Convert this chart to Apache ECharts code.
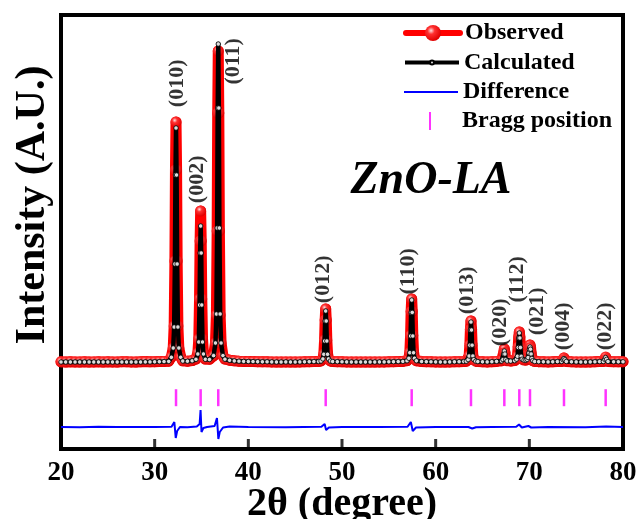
<!DOCTYPE html>
<html><head><meta charset="utf-8">
<script src="https://cdn.jsdelivr.net/npm/echarts@6/dist/echarts.min.js"></script>
<style>html,body{margin:0;padding:0;background:#fff}#c{width:638px;height:519px}</style>
</head><body><div id="c"></div>
<script>
// ---- data ----
const twoTheta = [
  20,20.5,21,21.5,22,22.5,23,23.5,24,24.5,25,25.5,26,26.5,27,27.5,28,28.5,29,29.5,30,30.5,31,31.5,
  31.78,31.98,32.08,32.16,32.22,32.28,32.34,32.40,32.48,32.58,32.78,
  33,33.5,34,
  34.41,34.61,34.71,34.79,34.85,34.91,34.97,35.03,35.11,35.21,35.41,
  35.85,
  36.29,36.49,36.59,36.67,36.73,36.79,36.85,36.91,36.99,37.09,37.29,
  37.5,38,38.5,39,39.5,40,40.5,41,41.5,42,42.5,43,43.5,44,44.5,45,45.5,46,46.5,47,47.5,
  47.76,47.96,48.06,48.14,48.20,48.26,48.32,48.38,48.46,48.56,48.76,
  49,49.5,50,50.5,51,51.5,52,52.5,53,53.5,54,54.5,55,55.5,56,56.5,
  56.94,57.14,57.24,57.32,57.38,57.44,57.50,57.56,57.64,57.74,57.94,
  58.5,59,59.5,60,60.5,61,61.5,62,62.5,63,
  63.27,63.47,63.57,63.65,63.71,63.77,63.83,63.89,63.97,64.07,64.27,
  64.5,65,65.5,66,66.5,
  67.03,67.18,67.27,67.33,67.39,67.48,67.63,
  68,
  68.43,68.63,68.73,68.81,68.87,68.93,68.99,69.05,69.13,69.23,69.43,69.63,69.77,69.87,69.95,70.01,70.07,70.13,70.19,70.27,70.37,70.57,
  71,71.5,72,72.5,73,
  73.45,73.6,73.7,73.8,73.95,
  74.5,75,75.5,76,76.5,77,77.5,
  77.9,78.05,78.15,78.25,78.4,
  79,79.5,80
];
const observed = [
  2,0,3,1,0,2,-1,1,3,0,2,1,0,3,2,1,0,2,4,2,3,5,6,8,
  50,140,360,1010,1920,2400,1920,1010,360,140,50,
  12,8,14,
  30,90,230,630,1210,1510,1210,630,230,90,30,
  28,
  62,190,470,1310,2490,3110,2490,1310,470,190,62,
  30,18,12,8,6,5,4,3,2,2,1,0,0,1,0,0,1,2,3,4,6,
  11,32,80,220,420,530,420,220,80,32,11,
  5,3,2,1,0,0,0,0,0,0,1,1,2,3,4,6,
  13,38,95,265,505,630,505,265,95,38,13,
  5,3,2,1,0,0,1,2,3,5,
  8,25,62,172,328,410,328,172,62,25,8,
  4,2,1,3,6,
  12,30,95,130,95,30,12,
  10,
  14,30,60,150,250,300,250,150,60,30,20,20,30,50,100,145,170,145,90,40,15,5,
  3,2,1,2,4,
  6,25,40,25,6,
  2,1,0,0,1,2,4,
  6,30,50,30,6,
  3,2,3
];
const calculated = [
  0,0,0,0,0,0,0,0,0,0,0,0,0,0,0,0,0,0,1,1,2,3,4,6,
  47,140,350,980,1870,2340,1870,980,350,140,47,
  10,8,12,
  27,80,200,570,1090,1360,1090,570,200,80,27,
  25,
  64,190,480,1340,2540,3180,2540,1340,480,190,64,
  28,17,11,8,6,5,4,3,2,2,1,0,0,1,0,0,1,2,3,4,5,
  10,31,77,210,410,510,410,210,77,31,10,
  5,3,2,1,0,0,0,0,0,0,1,1,2,3,4,6,
  12,37,93,260,496,620,496,260,93,37,12,
  5,3,2,1,0,0,1,2,3,5,
  8,24,60,168,320,400,320,168,60,24,8,
  4,2,1,3,6,
  10,25,80,110,80,25,10,
  9,
  13,28,57,145,240,290,240,145,57,28,18,18,26,45,90,128,150,128,80,36,14,5,
  3,2,1,2,4,
  5,22,35,22,5,
  2,1,0,0,1,2,4,
  5,27,45,27,5,
  2,2,2
];
const difference = [
  [20,-650],[22,-652],[24,-648],[26,-651],[28,-649],[30,-650],[31.8,-648],[32.1,-600],[32.25,-760],[32.4,-690],[32.7,-650],
  [33.5,-652],[34.5,-645],[34.8,-620],[34.9,-480],[35.0,-700],[35.2,-660],[35.6,-650],[36.4,-640],[36.65,-560],[36.8,-770],
  [36.95,-700],[37.3,-655],[38,-645],[40,-650],[44,-652],[47.8,-648],[48.15,-620],[48.3,-680],[48.6,-655],[50,-650],[54,-650],
  [57.0,-648],[57.35,-600],[57.55,-690],[57.9,-655],[60,-650],[63.5,-650],[63.7,-630],[63.9,-665],[64.3,-652],[66,-650],
  [68.6,-648],[68.9,-625],[69.2,-655],[69.9,-640],[70.2,-655],[72,-650],[76,-652],[78.2,-645],[80,-650]
];
const braggPositions = [32.28,34.91,36.79,48.26,57.44,63.77,67.33,68.93,70.07,73.70,78.15];
const braggRowY = -357;
const hklLabels = ['(010)','(002)','(011)','(012)','(110)','(013)','(020)','(112)','(021)','(004)','(022)'];
const labelX = [32.38,34.52,38.36,47.97,57.04,63.34,66.87,68.68,70.82,73.59,78.08];
const labelY = [2787,1827,3007,827,907,717,397,827,507,357,357];
const xTicks = [20,30,40,50,60,70,80];
const yMin = -870, yMax = 3470;
const tickMarkY = -820;

// ---- chart ----
const serif = "'Liberation Serif','Times New Roman',serif";
const chart = echarts.init(document.getElementById('c'), null, {renderer:'canvas'});
const legendText = {fontFamily:serif, fontWeight:'bold', fontSize:24, color:'#000', lineHeight:24};
const legendCommon = {left:403, itemWidth:54, padding:0, itemGap:0, selectedMode:false, textStyle:legendText, orient:'vertical'};
const sphere = {type:'radial', x:0.38, y:0.35, r:0.65, colorStops:[
  {offset:0,color:'#ffe0e0'},{offset:0.35,color:'#ff3030'},{offset:1,color:'#e00000'}]};
const frameStyle = {color:'#000', width:4, cap:'square'};

chart.setOption({
  animation:false,
  grid:{left:61, right:15, top:15, bottom:70, outerBoundsMode:'none', containLabel:false, show:false},
  xAxis:[{type:'value', min:20, max:80, interval:10, position:'bottom',
    axisLine:{show:true, onZero:false, lineStyle:frameStyle},
    axisTick:{show:false},
    axisLabel:{fontFamily:serif, fontWeight:'bold', fontSize:27, color:'#000', margin:11,
      formatter:v => xTicks.includes(v) ? String(v) : ''},
    splitLine:{show:false},
    name:'2θ (degree)', nameLocation:'middle', nameGap:36, nameMoveOverlap:false,
    nameTextStyle:{fontFamily:serif, fontWeight:'bold', fontSize:40, color:'#000'}
  },{type:'value', min:20, max:80, interval:10, position:'top',
    axisLine:{show:true, onZero:false, lineStyle:frameStyle}, axisTick:{show:false}, axisLabel:{show:false}, splitLine:{show:false}}],
  yAxis:[{type:'value', min:yMin, max:yMax, position:'left', axisLine:{show:true, onZero:false, lineStyle:frameStyle},
    axisTick:{show:false}, axisLabel:{show:false}, splitLine:{show:false}},
    {type:'value', min:0, max:1, position:'right', axisLine:{show:true, onZero:false, lineStyle:frameStyle},
    axisTick:{show:false}, axisLabel:{show:false}, splitLine:{show:false}}],
  legend:[
    Object.assign({}, legendCommon, {top:21, itemHeight:20, lineStyle:{width:6}, data:['Observed']}),
    Object.assign({}, legendCommon, {top:50.5, itemHeight:5, lineStyle:{width:4}, data:['Calculated']}),
    Object.assign({}, legendCommon, {top:80, itemHeight:2, lineStyle:{width:2}, data:['Difference']}),
    Object.assign({}, legendCommon, {top:109, itemHeight:18, data:[{name:'Bragg position',
      icon:'path://M0,0L0.05,0L0.05,0.05L0,0.05Z M53.95,17.95L54,17.95L54,18L53.95,18Z M26,0L28,0L28,18L26,18Z'}]})
  ],
  graphic:[
    {type:'text', x:33, y:205, rotation:Math.PI/2, style:{text:'Intensity (A.U.)', fontFamily:serif, fontWeight:'bold',
      fontSize:42, fill:'#000', align:'center', verticalAlign:'middle'}},
    {type:'text', x:431, y:181, style:{text:'ZnO-LA', fontFamily:serif, fontWeight:'bold', fontStyle:'italic',
      fontSize:46, fill:'#000', align:'center', verticalAlign:'middle'}}
  ],
  series:[
    {name:'Observed', type:'line', data:twoTheta.map((x,i)=>[x, observed[i]]), clip:false,
      symbol:'circle', symbolSize:11, showAllSymbol:true,
      lineStyle:{color:'#ff0000', width:11, cap:'round', join:'round'},
      itemStyle:{color:sphere}, z:2},
    {name:'Calculated', type:'line', data:twoTheta.map((x,i)=>[x, calculated[i]]), clip:false,
      symbol:'circle', symbolSize:4.5, showAllSymbol:true,
      lineStyle:{color:'#000', width:4.5, join:'round'},
      itemStyle:{color:'#dcdcdc', borderColor:'#000', borderWidth:0.8}, z:3},
    {name:'Difference', type:'line', data:difference, symbol:'none',
      lineStyle:{color:'#0000ff', width:2}, itemStyle:{color:'#0000ff'}, z:2},
    {name:'Bragg position', type:'scatter', data:braggPositions.map(x=>[x, braggRowY]),
      symbol:'rect', symbolSize:[2.5,17], itemStyle:{color:'#ff00ff'}, z:2},
    {name:'tickMarks', type:'scatter', data:xTicks.slice(1, -1).map(x=>[x, tickMarkY]),
      symbol:'rect', symbolSize:[3,10], itemStyle:{color:'#000'}, z:10},
    {name:'hkl', type:'scatter', symbolSize:0, silent:true, z:4,
      data:hklLabels.map((t,i)=>({value:[labelX[i], labelY[i]], name:t})),
      label:{show:true, position:'inside', rotate:90, formatter:p=>p.name, align:'center', verticalAlign:'middle',
        fontFamily:serif, fontWeight:'bold', fontSize:22, color:'#000'}}
  ]
});
</script></body></html>
